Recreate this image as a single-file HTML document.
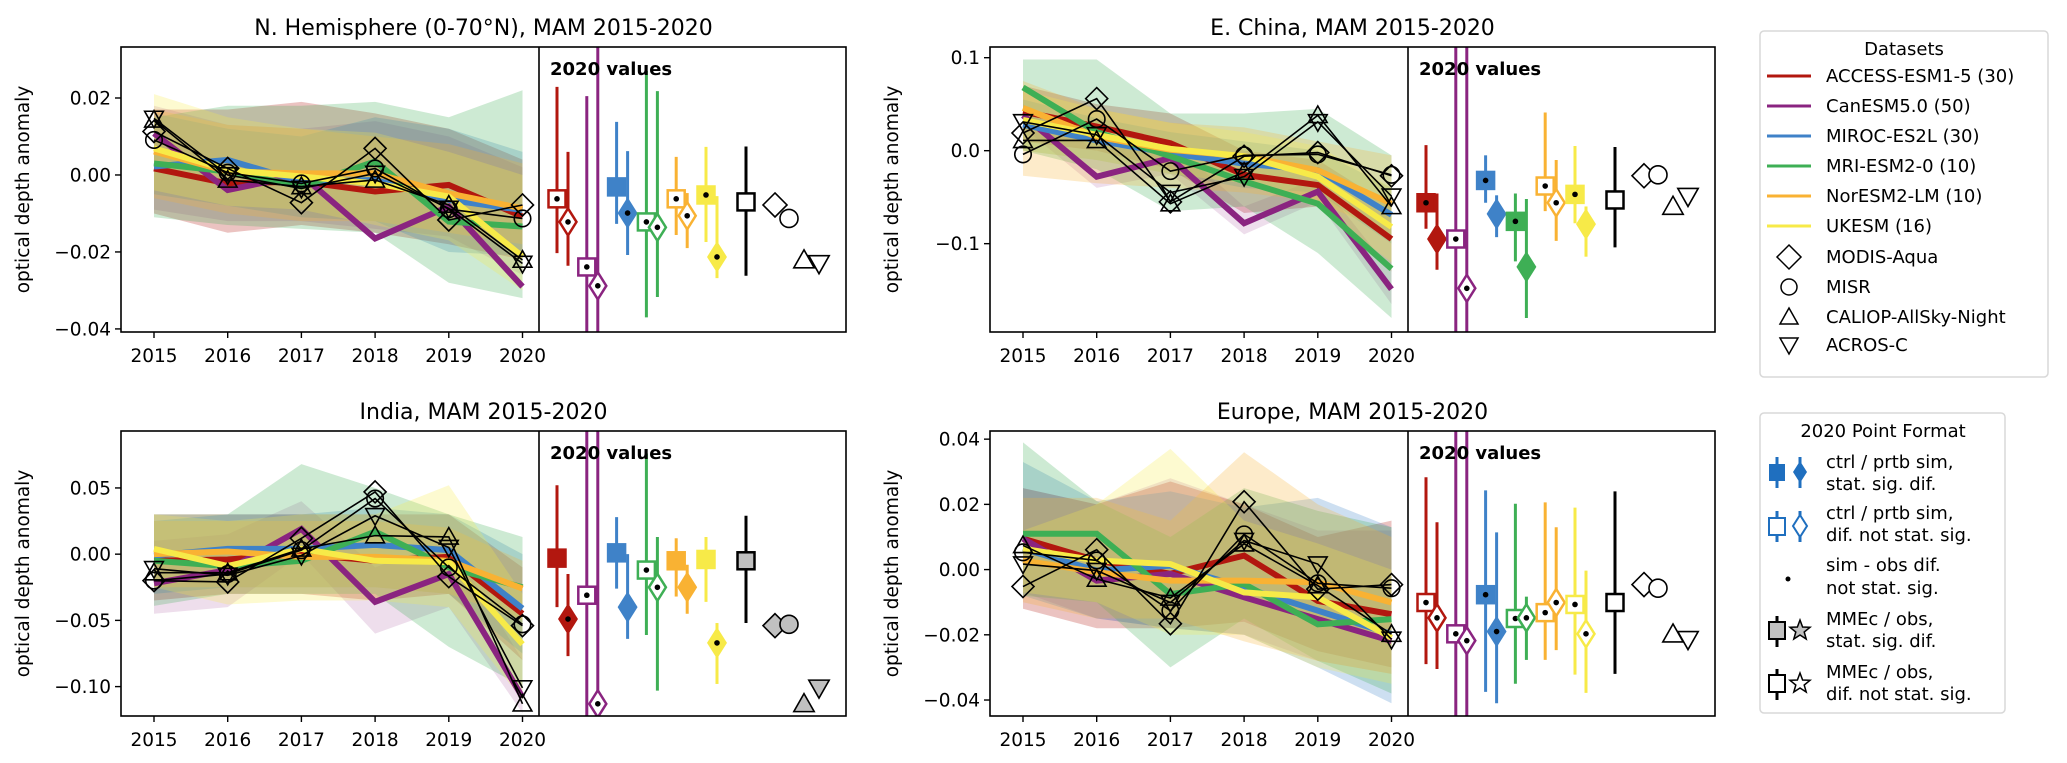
<!DOCTYPE html>
<html><head><meta charset="utf-8">
<style>
html,body{margin:0;padding:0;background:#fff;width:2067px;height:763px;overflow:hidden;}
svg{display:block;font-family:"DejaVu Sans","Liberation Sans",sans-serif;}
</style></head>
<body>
<svg id="fig" width="2067" height="763" viewBox="0 0 2067 763" xmlns="http://www.w3.org/2000/svg">
<g id="panels"></g>
<g id="legend-datasets">
  <rect x="1760" y="31" width="288" height="346" rx="4" fill="#fff" stroke="#d8d8d8" stroke-width="1.5"/>
  <text x="1904" y="55" font-size="18" text-anchor="middle">Datasets</text>
  <g font-size="18">
    <line x1="1767" y1="76" x2="1811" y2="76" stroke="#b2170f" stroke-width="3"/><text x="1826" y="82">ACCESS-ESM1-5 (30)</text>
    <line x1="1767" y1="106" x2="1811" y2="106" stroke="#8a2480" stroke-width="3"/><text x="1826" y="112">CanESM5.0 (50)</text>
    <line x1="1767" y1="136" x2="1811" y2="136" stroke="#3f82c8" stroke-width="3"/><text x="1826" y="142">MIROC-ES2L (30)</text>
    <line x1="1767" y1="166" x2="1811" y2="166" stroke="#3eaf55" stroke-width="3"/><text x="1826" y="172">MRI-ESM2-0 (10)</text>
    <line x1="1767" y1="196" x2="1811" y2="196" stroke="#f9b233" stroke-width="3"/><text x="1826" y="202">NorESM2-LM (10)</text>
    <line x1="1767" y1="226" x2="1811" y2="226" stroke="#f7ea48" stroke-width="3"/><text x="1826" y="232">UKESM (16)</text>
    <polygon points="1789,245 1801,257 1789,269 1777,257" fill="none" stroke="#000" stroke-width="1.5"/><text x="1826" y="263">MODIS-Aqua</text>
    <circle cx="1789" cy="287" r="8" fill="none" stroke="#000" stroke-width="1.5"/><text x="1826" y="293">MISR</text>
    <polygon points="1789,308 1798,324 1780,324" fill="none" stroke="#000" stroke-width="1.5"/><text x="1826" y="323">CALIOP-AllSky-Night</text>
    <polygon points="1780,338 1798,338 1789,354" fill="none" stroke="#000" stroke-width="1.5"/><text x="1826" y="351">ACROS-C</text>
  </g>
</g>
<g id="legend-format">
  <rect x="1760" y="413" width="245" height="300" rx="4" fill="#fff" stroke="#d8d8d8" stroke-width="1.5"/>
  <text x="1883" y="437" font-size="18" text-anchor="middle">2020 Point Format</text>
  <g font-size="18">
    <line x1="1777" y1="457" x2="1777" y2="488" stroke="#1f6fbf" stroke-width="3"/><rect x="1769" y="464" width="16" height="17" fill="#1f6fbf"/>
    <line x1="1800" y1="457" x2="1800" y2="488" stroke="#1f6fbf" stroke-width="3"/><polygon points="1800,461 1807,472 1800,483 1793,472" fill="#1f6fbf"/>
    <text x="1826" y="468">ctrl / prtb sim,</text><text x="1826" y="490"> stat. sig. dif.</text>
    <line x1="1777" y1="511" x2="1777" y2="542" stroke="#1f6fbf" stroke-width="3"/><rect x="1769" y="518" width="16" height="17" fill="#fff" stroke="#1f6fbf" stroke-width="2"/>
    <line x1="1800" y1="511" x2="1800" y2="542" stroke="#1f6fbf" stroke-width="3"/><polygon points="1800,515 1807,526 1800,537 1793,526" fill="#fff" stroke="#1f6fbf" stroke-width="2"/>
    <text x="1826" y="519">ctrl / prtb sim,</text><text x="1826" y="541"> dif. not stat. sig.</text>
    <circle cx="1788" cy="579" r="2.5" fill="#000"/>
    <text x="1826" y="571">sim - obs dif.</text><text x="1826" y="594"> not stat. sig.</text>
    <line x1="1777" y1="616" x2="1777" y2="647" stroke="#000" stroke-width="3"/><rect x="1769" y="622" width="16" height="17" fill="#c0c0c0" stroke="#000" stroke-width="2"/>
    <polygon points="1800,620 1802.6,627 1810,627.3 1804.2,632 1806.2,639 1800,635 1793.8,639 1795.8,632 1790,627.3 1797.4,627" fill="#c0c0c0" stroke="#000" stroke-width="1.5"/>
    <text x="1826" y="625">MMEc / obs,</text><text x="1826" y="647"> stat. sig. dif.</text>
    <line x1="1777" y1="669" x2="1777" y2="700" stroke="#000" stroke-width="3"/><rect x="1769" y="675" width="16" height="17" fill="#fff" stroke="#000" stroke-width="2"/>
    <polygon points="1800,673 1802.6,680 1810,680.3 1804.2,685 1806.2,692 1800,688 1793.8,692 1795.8,685 1790,680.3 1797.4,680" fill="#fff" stroke="#000" stroke-width="1.5"/>
    <text x="1826" y="678">MMEc / obs,</text><text x="1826" y="700"> dif. not stat. sig.</text>
  </g>
</g>
</svg>
<script>
// ---------- shared data ----------
const years = [2015, 2016, 2017, 2018, 2019, 2020];
const modelNames = ['access', 'canesm', 'miroc', 'mri', 'noresm', 'ukesm'];
const obsNames = ['modis', 'misr', 'caliop', 'acros'];
const obsShapes = ['diamond', 'circle', 'triup', 'tridown'];
const modelColors = ['#b2170f', '#8a2480', '#3f82c8', '#3eaf55', '#f9b233', '#f7ea48'];

// ---------- N. Hemisphere ----------
const nhTicks = [0.02, 0, -0.02, -0.04];
const nhTickLabels = ['0.02', '0.00', '\u22120.02', '\u22120.04'];
const nhMean = [
  [0.0017, -0.0022, -0.0017, -0.0043, -0.0026, -0.0108],
  [0.0108, -0.0039, 0.0, -0.0165, -0.0082, -0.029],
  [0.0022, 0.0039, -0.0017, -0.0013, -0.0065, -0.0091],
  [0.003, 0.0009, -0.003, 0.0035, -0.0121, -0.0134],
  [0.0061, 0.0009, 0.0004, 0.0004, -0.0048, -0.0087],
  [0.0069, 0.0013, -0.0004, -0.0022, -0.0056, -0.0212]];
const nhHi = [
  [0.017, 0.017, 0.019, 0.016, 0.012, 0.004],
  [0.018, 0.013, 0.012, 0.014, 0.010, 0.002],
  [0.016, 0.012, 0.010, 0.015, 0.012, 0.006],
  [0.015, 0.018, 0.018, 0.019, 0.015, 0.022],
  [0.017, 0.013, 0.012, 0.010, 0.008, 0.003],
  [0.021, 0.015, 0.012, 0.011, 0.006, 0.0]];
const nhLo = [
  [-0.010, -0.015, -0.013, -0.015, -0.018, -0.022],
  [-0.009, -0.012, -0.012, -0.014, -0.016, -0.026],
  [-0.005, -0.008, -0.011, -0.012, -0.020, -0.021],
  [-0.011, -0.013, -0.014, -0.015, -0.028, -0.032],
  [-0.006, -0.010, -0.012, -0.012, -0.015, -0.018],
  [-0.004, -0.008, -0.009, -0.013, -0.017, -0.030]];
const nhObs = [
  [0.0113, 0.0017, -0.0072, 0.0069, -0.0117, -0.0078],
  [0.0091, 0.0006, -0.0022, 0.0017, -0.0089, -0.0113],
  [0.0143, -0.0013, -0.003, -0.0013, -0.0078, -0.0221],
  [0.0147, 0.0, -0.0035, 0.0004, -0.0087, -0.023]];
const nhCtrl = [-0.0062, -0.0239, -0.0031, -0.0122, -0.0062, -0.0052];
const nhCtrlLo = [-0.0203, -0.08, -0.0127, -0.037, -0.0156, -0.0174];
const nhCtrlHi = [0.0229, 0.0205, 0.0138, 0.027, 0.0047, 0.0073];
const nhCtrlFilled = [false, false, true, false, false, true];
const nhCtrlDot = [true, true, false, true, true, true];
const nhPrtb = [-0.0122, -0.0288, -0.0099, -0.0136, -0.0106, -0.0213];
const nhPrtbLo = [-0.0236, -0.08, -0.0208, -0.0317, -0.019, -0.0268];
const nhPrtbHi = [0.006, 0.08, 0.0062, 0.0218, -0.0047, -0.0055];
const nhPrtbFilled = [false, false, true, false, false, true];
const nhPrtbDot = [true, true, true, true, true, true];
const nhMme = [-0.007, -0.0262, 0.0074];
const nhMmeSig = false;
const nhObsSig = false;

// ---------- E. China ----------
const ecTicks = [0.1, 0, -0.1];
const ecTickLabels = ['0.1', '0.0', '\u22120.1'];
const ecMean = [
  [0.042, 0.026, 0.008, -0.026, -0.037, -0.095],
  [0.038, -0.028, -0.008, -0.078, -0.044, -0.149],
  [0.028, 0.011, -0.003, -0.014, -0.021, -0.069],
  [0.068, 0.020, -0.006, -0.033, -0.057, -0.127],
  [0.046, 0.015, 0.001, -0.006, -0.021, -0.057],
  [0.033, 0.017, 0.002, -0.006, -0.028, -0.082]];
const ecHi = [
  [0.07, 0.05, 0.04, 0.0, -0.01, -0.06],
  [0.05, 0.0, 0.01, -0.06, -0.03, -0.13],
  [0.055, 0.035, 0.02, 0.01, 0.0, -0.04],
  [0.098, 0.098, 0.04, 0.04, 0.045, -0.005],
  [0.075, 0.045, 0.03, 0.025, 0.01, -0.005],
  [0.065, 0.045, 0.03, 0.02, 0.005, -0.04]];
const ecLo = [
  [0.01, 0.0, -0.02, -0.067, -0.06, -0.13],
  [0.025, -0.04, -0.025, -0.09, -0.055, -0.165],
  [0.0, -0.01, -0.025, -0.04, -0.045, -0.1],
  [0.0, -0.02, -0.065, -0.06, -0.11, -0.18],
  [-0.027, -0.035, -0.04, -0.045, -0.055, -0.09],
  [0.0, -0.01, -0.025, -0.035, -0.06, -0.12]];
const ecObs = [
  [0.019, 0.056, -0.055, -0.006, -0.002, -0.027],
  [-0.004, 0.034, -0.022, -0.005, -0.004, -0.026],
  [0.011, 0.011, -0.057, -0.023, 0.038, -0.060],
  [0.031, 0.017, -0.045, -0.028, 0.031, -0.049]];
const ecCtrl = [-0.056, -0.095, -0.032, -0.076, -0.038, -0.047];
const ecCtrlLo = [-0.084, -0.5, -0.056, -0.119, -0.065, -0.078];
const ecCtrlHi = [0.006, 0.5, -0.005, -0.046, 0.041, 0.005];
const ecCtrlFilled = [true, false, true, true, false, true];
const ecCtrlDot = [true, true, true, true, true, true];
const ecPrtb = [-0.095, -0.148, -0.068, -0.125, -0.056, -0.079];
const ecPrtbLo = [-0.128, -0.5, -0.093, -0.18, -0.097, -0.114];
const ecPrtbHi = [-0.046, 0.5, -0.048, -0.052, -0.010, -0.060];
const ecPrtbFilled = [true, false, true, true, false, true];
const ecPrtbDot = [false, true, false, false, true, false];
const ecMme = [-0.053, -0.104, 0.004];
const ecMmeSig = false;
const ecObsSig = false;

// ---------- India ----------
const inTicks = [0.05, 0, -0.05, -0.10];
const inTickLabels = ['0.05', '0.00', '\u22120.05', '\u22120.10'];
const inMean = [
  [-0.005, -0.004, 0.0, -0.005, -0.002, -0.045],
  [-0.022, -0.012, 0.019, -0.036, -0.015, -0.108],
  [-0.001, 0.004, 0.004, 0.007, 0.003, -0.041],
  [-0.005, -0.009, -0.005, 0.017, -0.010, -0.025],
  [0.0, 0.002, -0.002, -0.002, -0.005, -0.026],
  [0.004, -0.009, 0.004, -0.005, -0.006, -0.068]];
const inHi = [
  [0.03, 0.03, 0.03, 0.03, 0.03, -0.01],
  [0.01, 0.015, 0.04, -0.01, 0.01, -0.08],
  [0.025, 0.03, 0.03, 0.035, 0.03, 0.0],
  [0.03, 0.03, 0.068, 0.05, 0.03, 0.013],
  [0.025, 0.025, 0.025, 0.025, 0.02, -0.005],
  [0.03, 0.025, 0.03, 0.03, 0.052, -0.03]];
const inLo = [
  [-0.035, -0.03, -0.03, -0.035, -0.03, -0.08],
  [-0.045, -0.04, 0.0, -0.06, -0.04, -0.12],
  [-0.03, -0.025, -0.025, -0.025, -0.03, -0.075],
  [-0.039, -0.03, -0.03, -0.03, -0.07, -0.1],
  [-0.025, -0.025, -0.025, -0.025, -0.03, -0.05],
  [-0.025, -0.038, -0.035, -0.035, -0.04, -0.11]];
const inObs = [
  [-0.020, -0.021, 0.012, 0.047, -0.017, -0.054],
  [-0.020, -0.015, 0.003, 0.042, -0.010, -0.053],
  [-0.014, -0.014, 0.004, 0.014, 0.013, -0.113],
  [-0.011, -0.016, -0.001, 0.029, 0.005, -0.101]];
const inCtrl = [-0.003, -0.031, 0.001, -0.012, -0.005, -0.004];
const inCtrlLo = [-0.040, -0.5, -0.026, -0.061, -0.032, -0.036];
const inCtrlHi = [0.052, 0.5, 0.028, 0.076, 0.012, 0.013];
const inCtrlFilled = [true, false, true, false, true, true];
const inCtrlDot = [false, true, false, true, false, false];
const inPrtb = [-0.049, -0.113, -0.040, -0.025, -0.025, -0.067];
const inPrtbLo = [-0.077, -0.5, -0.064, -0.103, -0.045, -0.098];
const inPrtbHi = [-0.015, 0.5, 0.0, 0.013, -0.008, -0.052];
const inPrtbFilled = [true, false, true, false, true, true];
const inPrtbDot = [true, true, false, true, false, true];
const inMme = [-0.005, -0.052, 0.029];
const inMmeSig = true;
const inObsSig = true;

// ---------- Europe ----------
const euTicks = [0.04, 0.02, 0, -0.02, -0.04];
const euTickLabels = ['0.04', '0.02', '0.00', '\u22120.02', '\u22120.04'];
const euMean = [
  [0.0095, 0.0028, -0.0013, 0.0043, -0.0096, -0.0137],
  [0.0095, -0.0034, -0.0013, -0.0085, -0.0152, -0.0219],
  [0.0064, -0.0003, 0.0012, -0.0055, -0.0126, -0.0198],
  [0.011, 0.011, -0.0075, -0.0044, -0.0168, -0.0152],
  [0.0028, -0.0008, -0.0034, -0.0034, -0.0039, -0.0101],
  [0.0064, 0.0028, 0.0017, -0.007, -0.0085, -0.0209]];
const euHi = [
  [0.025, 0.02, 0.027, 0.02, 0.01, 0.015],
  [0.025, 0.02, 0.028, 0.02, 0.012, 0.012],
  [0.033, 0.021, 0.024, 0.019, 0.022, 0.013],
  [0.039, 0.021, 0.01, 0.025, 0.018, 0.013],
  [0.022, 0.022, 0.015, 0.036, 0.02, 0.01],
  [0.012, 0.02, 0.037, 0.015, 0.008, 0.0]];
const euLo = [
  [-0.012, -0.018, -0.018, -0.016, -0.025, -0.03],
  [-0.007, -0.015, -0.018, -0.02, -0.028, -0.032],
  [-0.008, -0.015, -0.018, -0.02, -0.03, -0.041],
  [-0.008, -0.01, -0.03, -0.015, -0.028, -0.038],
  [-0.01, -0.015, -0.015, -0.022, -0.028, -0.032],
  [-0.007, -0.01, -0.02, -0.02, -0.03, -0.035]];
const euObs = [
  [-0.0052, 0.0061, -0.0166, 0.0208, -0.006, -0.0046],
  [0.0053, 0.0028, -0.0126, 0.0108, -0.0042, -0.0057],
  [0.0074, -0.0029, -0.0087, 0.0079, -0.0049, -0.0198],
  [0.0017, -0.0003, -0.0101, 0.0089, 0.0017, -0.0214]];
const euCtrl = [-0.0101, -0.0197, -0.0077, -0.015, -0.0132, -0.0107];
const euCtrlLo = [-0.029, -1, -0.0375, -0.035, -0.0277, -0.0322];
const euCtrlHi = [0.0283, 1, 0.0243, 0.0202, 0.0206, 0.019];
const euCtrlFilled = [false, false, true, false, false, false];
const euCtrlDot = [true, true, true, true, true, true];
const euPrtb = [-0.0148, -0.0218, -0.019, -0.0148, -0.0101, -0.0197];
const euPrtbLo = [-0.0305, -1, -0.041, -0.0277, -0.0247, -0.0378];
const euPrtbHi = [0.0145, 1, 0.0114, -0.0083, 0.013, -0.0003];
const euPrtbFilled = [false, false, true, false, false, false];
const euPrtbDot = [true, true, true, true, true, true];
const euMme = [-0.0101, -0.032, 0.024];
const euMmeSig = false;
const euObsSig = false;

// ---------- layout ----------
const NS = 'http://www.w3.org/2000/svg';
const root = document.getElementById('panels');
function mk(tag, attrs, parent) {
  const el = document.createElementNS(NS, tag);
  for (const k in attrs) el.setAttribute(k, attrs[k]);
  parent.appendChild(el);
  return el;
}
const PH = 285, LW = 418, RW = 307;
const panels = [
  {id:'nh', title:'N. Hemisphere (0-70\u00b0N), MAM 2015-2020', left:121, top:47, ymin:-0.0408, ymax:0.03325,
   ticks:nhTicks, labels:nhTickLabels, mean:nhMean, hi:nhHi, lo:nhLo, obs:nhObs,
   ctrl:nhCtrl, ctrlLo:nhCtrlLo, ctrlHi:nhCtrlHi, ctrlF:nhCtrlFilled, ctrlD:nhCtrlDot,
   prtb:nhPrtb, prtbLo:nhPrtbLo, prtbHi:nhPrtbHi, prtbF:nhPrtbFilled, prtbD:nhPrtbDot,
   mme:nhMme, mmeSig:nhMmeSig, obsSig:nhObsSig},
  {id:'ec', title:'E. China, MAM 2015-2020', left:990, top:47, ymin:-0.195, ymax:0.1115,
   ticks:ecTicks, labels:ecTickLabels, mean:ecMean, hi:ecHi, lo:ecLo, obs:ecObs,
   ctrl:ecCtrl, ctrlLo:ecCtrlLo, ctrlHi:ecCtrlHi, ctrlF:ecCtrlFilled, ctrlD:ecCtrlDot,
   prtb:ecPrtb, prtbLo:ecPrtbLo, prtbHi:ecPrtbHi, prtbF:ecPrtbFilled, prtbD:ecPrtbDot,
   mme:ecMme, mmeSig:ecMmeSig, obsSig:ecObsSig},
  {id:'in', title:'India, MAM 2015-2020', left:121, top:431, ymin:-0.1222, ymax:0.093,
   ticks:inTicks, labels:inTickLabels, mean:inMean, hi:inHi, lo:inLo, obs:inObs,
   ctrl:inCtrl, ctrlLo:inCtrlLo, ctrlHi:inCtrlHi, ctrlF:inCtrlFilled, ctrlD:inCtrlDot,
   prtb:inPrtb, prtbLo:inPrtbLo, prtbHi:inPrtbHi, prtbF:inPrtbFilled, prtbD:inPrtbDot,
   mme:inMme, mmeSig:inMmeSig, obsSig:inObsSig},
  {id:'eu', title:'Europe, MAM 2015-2020', left:990, top:431, ymin:-0.0449, ymax:0.0425,
   ticks:euTicks, labels:euTickLabels, mean:euMean, hi:euHi, lo:euLo, obs:euObs,
   ctrl:euCtrl, ctrlLo:euCtrlLo, ctrlHi:euCtrlHi, ctrlF:euCtrlFilled, ctrlD:euCtrlDot,
   prtb:euPrtb, prtbLo:euPrtbLo, prtbHi:euPrtbHi, prtbF:euPrtbFilled, prtbD:euPrtbDot,
   mme:euMme, mmeSig:euMmeSig, obsSig:euObsSig}
];

function obsMarker(shape, cx, cy, s, fill, g) {
  let el;
  if (shape === 'diamond') el = mk('polygon', {points:`${cx},${cy-s} ${cx+s},${cy} ${cx},${cy+s} ${cx-s},${cy}`}, g);
  else if (shape === 'circle') el = mk('circle', {cx:cx, cy:cy, r:s*0.75}, g);
  else if (shape === 'triup') el = mk('polygon', {points:`${cx},${cy-s*0.85} ${cx+s*0.85},${cy+s*0.65} ${cx-s*0.85},${cy+s*0.65}`}, g);
  else el = mk('polygon', {points:`${cx-s*0.85},${cy-s*0.65} ${cx+s*0.85},${cy-s*0.65} ${cx},${cy+s*0.85}`}, g);
  el.setAttribute('fill', fill);
  el.setAttribute('stroke', '#000');
  el.setAttribute('stroke-width', '1.6');
  return el;
}

panels.forEach(function(p) {
  const g = mk('g', {}, root);
  
  
  const L = p.left, T = p.top, B = T + PH, D = L + LW, R = D + RW;
  const y = v => T + (p.ymax - v) / (p.ymax - p.ymin) * PH;
  const x = i => L + 33 + i * 73.7;

  const clipId = 'clip-' + p.id;
  const cp = mk('clipPath', {id: clipId}, g);
  mk('rect', {x:L, y:T, width:LW + RW, height:PH}, cp);

  const title = mk('text', {x:(L + R) / 2, y:T - 12, 'font-size':22, 'text-anchor':'middle'}, g);
  title.textContent = p.title;
  
  

  const yl = mk('text', {x:0, y:0, 'font-size':18.5, 'text-anchor':'middle', transform:`translate(${L - 92},${T + PH / 2}) rotate(-90)`}, g);
  yl.textContent = 'optical depth anomaly';
  
  

  const plot = mk('g', {'clip-path':`url(#${clipId})`}, g);
  p.mean.forEach(function(m, k) {
    let pts = p.hi[k].map((v, i) => `${x(i)},${y(v)}`);
    pts = pts.concat(p.lo[k].map((v, i) => `${x(i)},${y(v)}`).reverse());
    const band = mk('polygon', {points:pts.join(' '), fill:modelColors[k], 'fill-opacity':k === 1 ? 0.15 : 0.26}, plot);
    
    
  });
  p.mean.forEach(function(m, k) {
    const ln = mk('polyline', {points:m.map((v, i) => `${x(i)},${y(v)}`).join(' '), fill:'none', stroke:modelColors[k], 'stroke-width':6, 'stroke-linejoin':'miter'}, plot);
    
    
  });
  p.obs.forEach(function(o, k) {
    const ln = mk('polyline', {points:o.map((v, i) => `${x(i)},${y(v)}`).join(' '), fill:'none', stroke:'#000', 'stroke-width':1.6}, plot);
    
    
    o.forEach(function(v, i) {
      const mkr = obsMarker(obsShapes[k], x(i), y(v), 11, 'none', plot);
      
      
    });
  });

  const rp = mk('g', {'clip-path':`url(#${clipId})`}, g);
  function whisker(cx, lo, hi, col) {
    mk('line', {x1:cx, x2:cx, y1:y(hi), y2:y(lo), stroke:col, 'stroke-width':3}, rp);
  }
  function dot(cx, cy) { mk('circle', {cx:cx, cy:cy, r:2.8, fill:'#000'}, rp); }
  p.ctrl.forEach(function(v, k) {
    const col = modelColors[k];
    const cx = D + 18 + 29.8 * k;
    whisker(cx, p.ctrlLo[k], p.ctrlHi[k], col);
    const sq = mk('rect', {x:cx - 8.5, y:y(v) - 8.5, width:17, height:17, fill:p.ctrlF[k] ? col : '#fff', stroke:col, 'stroke-width':2.5}, rp);
    
    
    if (p.ctrlD[k]) dot(cx, y(v));
    const dx = cx + 11, pv = p.prtb[k], py = y(pv);
    whisker(dx, p.prtbLo[k], p.prtbHi[k], col);
    const dm = mk('polygon', {points:`${dx},${py - 13.5} ${dx + 8.5},${py} ${dx},${py + 13.5} ${dx - 8.5},${py}`, fill:p.prtbF[k] ? col : '#fff', stroke:col, 'stroke-width':2.5}, rp);
    
    
    if (p.prtbD[k]) dot(dx, py);
  });
  const mx = D + 207;
  whisker(mx, p.mme[1], p.mme[2], '#000');
  const msq = mk('rect', {x:mx - 8.5, y:y(p.mme[0]) - 8.5, width:17, height:17, fill:p.mmeSig ? '#c0c0c0' : '#fff', stroke:'#000', 'stroke-width':2.5}, rp);
  
  
  const obsX = [236, 250, 265, 280];
  p.obs.forEach(function(o, k) {
    const mkr = obsMarker(obsShapes[k], D + obsX[k], y(o[5]), 12, p.obsSig ? '#c0c0c0' : '#fff', rp);
    
    
  });
  const tv = mk('text', {x:D + 11, y:T + 28, 'font-size':18, 'font-weight':'bold'}, g);
  tv.textContent = '2020 values';
  
  

  mk('rect', {x:L, y:T, width:LW + RW, height:PH, fill:'none', stroke:'#000', 'stroke-width':1.6}, g);
  mk('line', {x1:D, x2:D, y1:T, y2:B, stroke:'#000', 'stroke-width':1.6}, g);

  p.ticks.forEach(function(t, i) {
    const ty = y(t);
    mk('line', {x1:L - 6, x2:L, y1:ty, y2:ty, stroke:'#000', 'stroke-width':1.4}, g);
    const tl = mk('text', {x:L - 10, y:ty + 6.5, 'font-size':18.5, 'text-anchor':'end'}, g);
    tl.textContent = p.labels[i];
    
    
  });
  years.forEach(function(yr, i) {
    mk('line', {x1:x(i), x2:x(i), y1:B, y2:B + 6, stroke:'#000', 'stroke-width':1.4}, g);
    const xl = mk('text', {x:x(i), y:B + 30, 'font-size':18.5, 'text-anchor':'middle'}, g);
    xl.textContent = String(yr);
    
    
  });
});
</script>
</body></html>
